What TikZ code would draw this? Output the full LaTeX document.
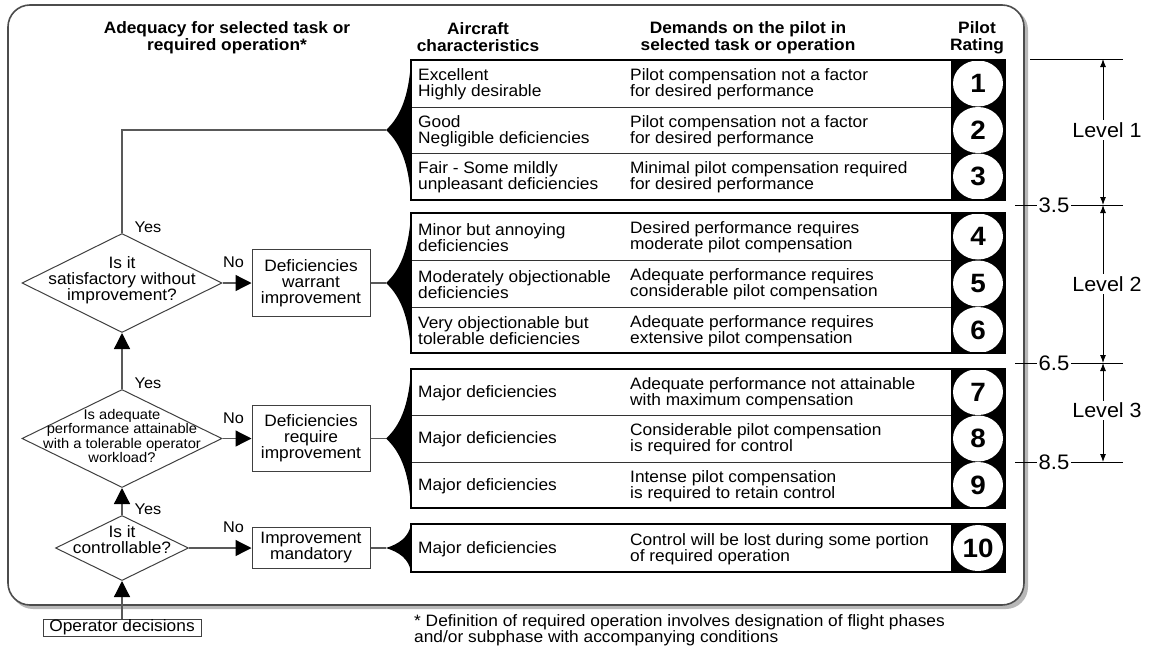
\documentclass[tikz,border=0pt]{standalone}
\usepackage{fontspec}
\setmainfont{Liberation Sans}[FakeStretch=1.05]
\usetikzlibrary{arrows.meta,shapes.geometric}

% one row of the rating table: name, top, bottom, characteristics, demands, rating
\newcommand\ratingrow[6]{%
  \node[rowbox, minimum height={#3-#2}] (#1) at (681,{(#2+#3)/2}) {};
  \fill (951,#2) rectangle (1005,#3);
  \node[ratecirc] (#1c) at (978,{(#2+#3)/2}) {#6};
  \node[celltext] (#1a) at (418,{(#2+#3)/2+1}) {#4};
  \node[celltext] (#1b) at (630,{(#2+#3)/2+1}) {#5};
}
% black wedge joining a decision branch to a block of rows: top, bottom, middle
\newcommand\wedgeshape[3]{%
  \fill (386,#3) .. controls (399,{#3-0.17*(#3-#1)}) and (409,{#3-0.45*(#3-#1)}) .. (411,#1)
    -- (411,#2) .. controls (409,{#3+0.45*(#2-#3)}) and (399,{#3+0.17*(#2-#3)}) .. (386,#3) -- cycle;
}

\tikzset{
  base/.style={font=\fontsize{16.5}{16}\selectfont, inner sep=0pt},
  hdr/.style={font=\fontsize{16.5}{17}\selectfont\bfseries, align=center, inner sep=0pt},
  celltext/.style={base, anchor=west, align=left},
  rowbox/.style={draw=black!80, line width=0.9pt, minimum width=540, inner sep=0pt},
  ratecirc/.style={ellipse, fill=white, minimum width=50, minimum height=46, inner sep=0pt,
    font=\fontsize{26.5}{26}\selectfont\bfseries},
  decision/.style={diamond, draw=black!75, line width=1pt, inner sep=0pt},
  actbox/.style={draw=black!75, line width=1pt, base, align=center, minimum width=118},
  flow/.style={draw=black!65, line width=1.3pt},
  arr/.style={flow, -{Triangle[length=16pt,width=16pt,black]}},
  yn/.style={font=\fontsize{15.5}{15}\selectfont, inner sep=0pt},
  lvl/.style={font=\fontsize{20.5}{20}\selectfont, fill=white, inner sep=2pt},
  tick/.style={font=\fontsize{21}{20}\selectfont, fill=white, inner sep=2pt},
  scaleline/.style={line width=0.9pt, black},
  dim/.style={scaleline, {Latex[length=8pt,width=6pt]}-{Latex[length=8pt,width=6pt]}},
}

\begin{document}
\begin{tikzpicture}[x=1pt,y=-1pt]
\useasboundingbox (0,0) rectangle (1155,648);

% frame with drop shadow
\fill[black!28, rounded corners=22] (11,8) rectangle (1028,609);
\draw[fill=white, draw=black!70, line width=1.6pt, rounded corners=22] (8,5) rectangle (1024,605);

% column headings
\node[hdr] (h1) at (227,37.5) {Adequacy for selected task or\\required operation*};
\node[hdr] (h2) at (478,37.5) {Aircraft\\characteristics};
\node[hdr] (h3) at (748,37.5) {Demands on the pilot in\\selected task or operation};
\node[hdr] (h4) at (977,37.5) {Pilot\\Rating};

% rating table
\ratingrow{r1}{60}{107}{Excellent\\Highly desirable}{Pilot compensation not a factor\\for desired performance}{1}
\ratingrow{r2}{107}{153}{Good\\Negligible deficiencies}{Pilot compensation not a factor\\for desired performance}{2}
\ratingrow{r3}{153}{200}{Fair - Some mildly\\unpleasant deficiencies}{Minimal pilot compensation required\\for desired performance}{3}
\ratingrow{r4}{213}{260}{Minor but annoying\\deficiencies}{Desired performance requires\\moderate pilot compensation}{4}
\ratingrow{r5}{260}{307}{Moderately objectionable\\deficiencies}{Adequate performance requires\\considerable pilot compensation}{5}
\ratingrow{r6}{307}{353}{Very objectionable but\\tolerable deficiencies}{Adequate performance requires\\extensive pilot compensation}{6}
\ratingrow{r7}{369}{415}{Major deficiencies}{Adequate performance not attainable\\with maximum compensation}{7}
\ratingrow{r8}{415}{462}{Major deficiencies}{Considerable pilot compensation\\is required for control}{8}
\ratingrow{r9}{462}{508}{Major deficiencies}{Intense pilot compensation\\is required to retain control}{9}
\ratingrow{r10}{524}{572}{Major deficiencies}{Control will be lost during some portion\\of required operation}{10}

\draw[line width=1.2pt] (411,60) rectangle (1005,200);
\draw[line width=1.2pt] (411,213) rectangle (1005,353);
\draw[line width=1.2pt] (411,369) rectangle (1005,508);
\draw[line width=1.2pt] (411,524) rectangle (1005,572);

\wedgeshape{60}{200}{130}
\wedgeshape{213}{353}{283}
\wedgeshape{369}{508}{438.5}
\wedgeshape{524}{572}{548}
\coordinate (t1) at (386,130);
\coordinate (t2) at (386,283);
\coordinate (t3) at (386,438.5);
\coordinate (t4) at (386,548);

% decisions
\node[decision, minimum width=200, minimum height=99] (d1) at (122,283) {};
\node[base, align=center] (d1t) at (122,280) {Is it\\satisfactory without\\improvement?};
\node[decision, minimum width=200, minimum height=98] (d2) at (122,438.5) {};
\node[font=\fontsize{14}{14.5}\selectfont, inner sep=0pt, align=center] (d2t) at (122,436) {Is adequate\\performance attainable\\with a tolerable operator\\workload?};
\node[decision, minimum width=133, minimum height=65] (d3) at (122,548) {};
\node[base, align=center] (d3t) at (122,540) {Is it\\controllable?};

\node[actbox, minimum height=67] (b1) at (311,283) {Deficiencies\\warrant\\improvement};
\node[actbox, minimum height=66] (b2) at (311,438.5) {Deficiencies\\require\\improvement};
\node[actbox, minimum height=41] (b3) at (311,548) {Improvement\\mandatory};

\node[base, draw=black!75, line width=0.9pt, minimum width=158, minimum height=17] (op) at (122,627.5) {Operator decisions};

% flow connectors
\draw[flow] (d1.north) |- (t1);
\draw[arr] (d2.north) -- (d1.south);
\draw[arr] (d3.north) -- (d2.south);
\draw[arr] (op.north) -- (d3.south);
\draw[arr] (d1.east) -- (b1.west);
\draw[arr] (d2.east) -- (b2.west);
\draw[arr] (d3.east) -- (b3.west);
\draw[flow] (b1.east) -- (t2);
\draw[flow] (b2.east) -- (t3);
\draw[flow] (b3.east) -- (t4);

\node[yn] (y1) at (148,227) {Yes};
\node[yn] (y2) at (148,383) {Yes};
\node[yn] (y3) at (148,509) {Yes};
\node[yn] (n1) at (233.5,262.5) {No};
\node[yn] (n2) at (233.5,418) {No};
\node[yn] (n3) at (233.5,527.5) {No};

% level scale
\coordinate (s0) at (1103,59);
\coordinate (s1) at (1103,205);
\coordinate (s2) at (1103,363);
\coordinate (s3) at (1103,462);
\draw[scaleline] (1030,59) -- (1123,59);
\draw[scaleline] (1015,205) -- (1123,205);
\draw[scaleline] (1015,363) -- (1123,363);
\draw[scaleline] (1015,462) -- (1123,462);
\draw[dim] (s0) -- (s1);
\draw[dim] (s1) -- (s2);
\draw[dim] (s2) -- (s3);
\node[tick] (k1) at (1054,205) {3.5};
\node[tick] (k2) at (1054,363) {6.5};
\node[tick] (k3) at (1054,462) {8.5};
\node[lvl] (l1) at (1107,130) {Level 1};
\node[lvl] (l2) at (1107,284) {Level 2};
\node[lvl] (l3) at (1107,410.5) {Level 3};

% footnote
\node[font=\fontsize{16.5}{15}\selectfont, inner sep=0pt, anchor=west, align=left] (fn) at (414,630)
  {* Definition of required operation involves designation of flight phases\\and/or subphase with accompanying conditions};
\end{tikzpicture}
\end{document}
